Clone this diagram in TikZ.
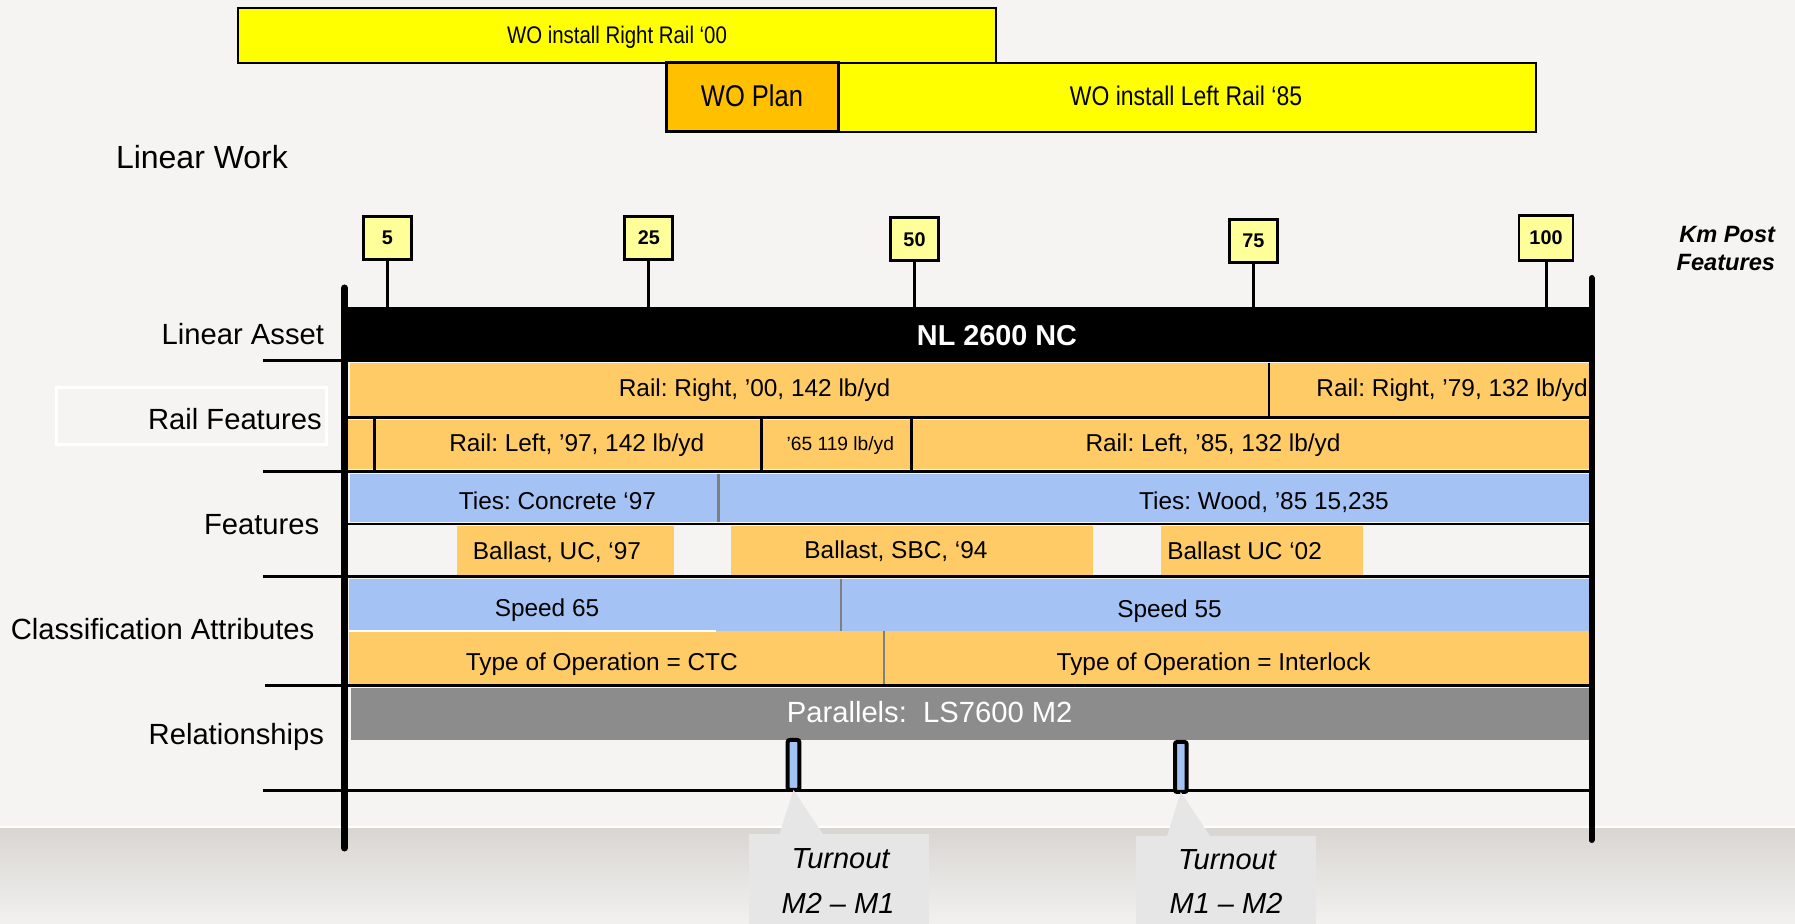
\documentclass[tikz,border=0pt]{standalone}
\usepackage{graphicx}
\usepackage{fontspec}
\setmainfont{Liberation Sans}
\usetikzlibrary{calc}
\definecolor{pagebg}{HTML}{F5F4F2}
\definecolor{woyellow}{HTML}{FFFF00}
\definecolor{woplan}{HTML}{FFC000}
\definecolor{featorange}{HTML}{FFCB66}
\definecolor{featblue}{HTML}{A4C2F4}
\definecolor{relgrey}{HTML}{8C8C8C}
\definecolor{kmyellow}{HTML}{FFFF99}
\definecolor{bandtop}{HTML}{D9D6D2}
\definecolor{bandbot}{HTML}{F2F1EF}
\definecolor{callfill}{HTML}{E6E6E6}
\definecolor{divgrey}{HTML}{7F7F7F}
\newcommand{\setfs}[1]{\fontsize{#1}{#1}\selectfont}
\newcommand{\narrowtxt}[1]{\scalebox{0.85}[1]{#1}}
\frenchspacing
\begin{document}
\begin{tikzpicture}[x=0.5pt,y=-0.5pt,
  every node/.style={inner sep=0pt, outer sep=0pt},
  wobar/.style={fill=woyellow, draw=black, line width=1pt},
  wotext/.style={anchor=base},
  lefttext/.style={font=\setfs{14.6}, anchor=base east},
  rowtext/.style={font=\setfs{12.2}, anchor=base},
  kmsign/.style={fill=kmyellow, draw=black, line width=1.4pt, minimum width=24pt, minimum height=21.5pt, font=\bfseries\setfs{9.9}},
  stemline/.style={line width=1.5pt},
  sepline/.style={line width=1.5pt},
  raildiv/.style={line width=1.5pt},
  greydiv/.style={draw=divgrey, line width=1.2pt},
  turnmark/.style={fill=featblue, draw=black, line width=2pt, rounded corners=1pt, minimum width=5.8pt, minimum height=25pt},
  calloutbox/.style={fill=callfill, minimum width=90pt, anchor=north},
  turntext/.style={font=\itshape\setfs{14.5}, anchor=base}
]
\useasboundingbox (0,0) rectangle (1795,924);
% background
\fill[pagebg] (0,0) rectangle (1795,826);
\fill[white] (0,826) rectangle (1795,829);
\shade[top color=bandtop, bottom color=bandbot] (0,829) rectangle (1795,924);

% work orders
\draw[wobar] (238,8) rectangle (996,63);
\node[wotext, font=\setfs{12}] (wor) at (617,44) {\narrowtxt{WO install Right Rail ‘00}};
\draw[wobar] (838,63) rectangle (1536,132);
\draw[fill=woplan, draw=black, line width=1.5pt] (666.5,63) rectangle (838,132);
\node[wotext, font=\setfs{15}] (wop) at (752,106.7) {\narrowtxt{WO Plan}};
\node[wotext, font=\setfs{13.5}] (wol) at (1186,106) {\narrowtxt{WO install Left Rail ‘85}};

\node[font=\setfs{16}, anchor=base west] (lw) at (116,168.3) {Linear Work};

% Km post labels
\node[font=\bfseries\itshape\setfs{11.8}, anchor=base east] (kmp) at (1775,242.7) {Km Post};
\node[font=\bfseries\itshape\setfs{11.8}, anchor=base east] (kmf) at (1775,271) {Features};

% linear asset bar
\node[fill=black, anchor=north west, minimum width=622.5pt, minimum height=27.9pt] (la) at (345,306.7) {};
\node[font=\bfseries\setfs{14.4}, text=white, anchor=base] (nl) at (997,346) {NL 2600 NC};

% km signs
\node[kmsign] (k5) at (387.5,238) {5};
\node[kmsign] (k25) at (648.8,237.7) {25};
\node[kmsign] (k50) at (914.5,239.3) {50};
\node[kmsign] (k75) at (1253.3,240.7) {75};
\node[kmsign, minimum width=27pt, minimum height=22.5pt] (k100) at (1546,238) {100};
\foreach \k in {k5,k25,k50,k75,k100}
  \draw[stemline] (\k.south) -- (\k.south |- la.north);

% rail features row 1
\fill[featorange] (350,363) rectangle (1589,417);
\draw[line width=0.8pt] (1269,363) -- (1269,417);
\node[rowtext] (rr00) at (754.5,396.7) {Rail: Right, ’00, 142 lb/yd};
\node[rowtext] (rr79) at (1452,396.7) {Rail: Right, ’79, 132 lb/yd};
% rail features row 2
\fill[featorange] (345,420) rectangle (1589,469);
\draw[raildiv] (374.5,419) -- (374.5,470);
\draw[raildiv] (761,419) -- (761,470);
\draw[raildiv] (911.7,419) -- (911.7,470);
\node[rowtext] (rl97) at (576.8,451.7) {Rail: Left, ’97, 142 lb/yd};
\node[rowtext, font=\setfs{9.6}] (rl65) at (840.3,450.7) {’65 119 lb/yd};
\node[rowtext] (rl85) at (1213,451.7) {Rail: Left, ’85, 132 lb/yd};

% ties
\fill[featblue] (350,474) rectangle (1589,522.5);
\draw[greydiv] (718.4,474) -- (718.4,522.5);
\node[rowtext] (tc) at (557.4,510) {Ties: Concrete ‘97};
\node[rowtext] (tw) at (1264,510) {Ties: Wood, ’85 15,235};

% ballast
\fill[featorange] (457,526) rectangle (674,575.5);
\fill[featorange] (731,526) rectangle (1092.5,575.5);
\fill[featorange] (1161,526) rectangle (1362.6,575.5);
\node[rowtext] (b1) at (557,560) {Ballast, UC, ‘97};
\node[rowtext] (b2) at (896,558.7) {Ballast, SBC, ‘94};
\node[rowtext] (b3) at (1244.6,560) {Ballast UC ‘02};

% speed / operation
\fill[featblue] (349,579) rectangle (1589,631);
\fill[featorange] (349,631) rectangle (1589,684);
\draw[white, line width=0.8pt] (349,631) -- (716,631);
\draw[greydiv] (840.8,579) -- (840.8,631);
\draw[greydiv] (884,631) -- (884,684);
\node[rowtext] (s65) at (547,616.7) {Speed 65};
\node[rowtext] (s55) at (1169.5,617.3) {Speed 55};
\node[rowtext] (toc) at (601.8,670.7) {Type of Operation = CTC};
\node[rowtext] (toi) at (1213.7,670.7) {Type of Operation = Interlock};

% relationships
\fill[relgrey] (351,688) rectangle (1589,740);
\node[font=\setfs{14.6}, text=white, anchor=base] (par) at (929.7,722.7) {Parallels:\ \ LS7600 M2};

% separator lines
\draw[sepline] (263,361) -- (345,361);
\draw[sepline] (345,418) -- (1590,418);
\draw[sepline] (263,471.5) -- (1590,471.5);
\draw[line width=1.3pt] (345,524) -- (1590,524);
\draw[sepline] (263,577) -- (1590,577);
\draw[sepline] (265,685.5) -- (1590,685.5);
\draw[sepline] (263,791) -- (1590,791);

% vertical bars
\draw[line width=3.5pt, line cap=round] (344.5,288) -- (344.5,848);
\draw[line width=3pt, line cap=round] (1591.5,278) -- (1591.5,840);

% left labels
\draw[white, line width=1.5pt] (56,387.3) rectangle (326,444.3);
\node[lefttext] (l1) at (324,345) {Linear Asset};
\node[lefttext] (l2) at (321.7,430) {Rail Features};
\node[lefttext] (l3) at (319.3,535) {Features};
\node[lefttext] (l4) at (314.3,640) {Classification Attributes};
\node[lefttext] (l5) at (324,745) {Relationships};

% turnouts
\node[turnmark] (t1) at (793.5,765) {};
\node[turnmark] (t2) at (1180.8,767) {};
\node[calloutbox, minimum height=45pt] (c1) at (839,834) {};
\node[calloutbox, minimum height=44pt] (c2) at (1226,836) {};
\fill[callfill] (t1.south) -- ([xshift=15.25pt]c1.north west) -- ([xshift=36.9pt]c1.north west) -- cycle;
\fill[callfill] (t2.south) -- ([xshift=15.5pt]c2.north west) -- ([xshift=37pt]c2.north west) -- cycle;
\node[turntext] (c1a) at (840.6,868.3) {Turnout};
\node[turntext] (c1b) at (838,913.3) {M2 – M1};
\node[turntext] (c2a) at (1227,869.3) {Turnout};
\node[turntext] (c2b) at (1226,913.3) {M1 – M2};
\end{tikzpicture}
\end{document}
